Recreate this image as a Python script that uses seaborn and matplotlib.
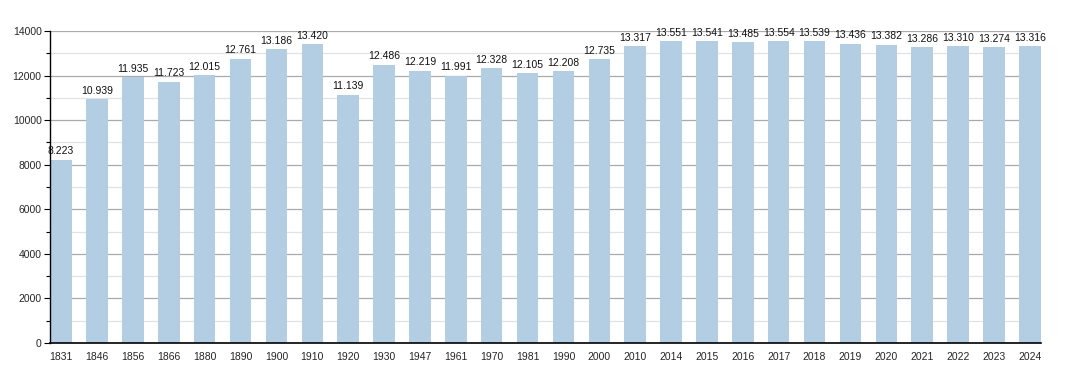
import matplotlib
matplotlib.use("Agg")
import matplotlib.pyplot as plt
import seaborn as sns
import pandas as pd
from matplotlib.ticker import MultipleLocator

years = ["1831", "1846", "1856", "1866", "1880", "1890", "1900", "1910", "1920", "1930",
         "1947", "1961", "1970", "1981", "1990", "2000", "2010", "2014", "2015", "2016",
         "2017", "2018", "2019", "2020", "2021", "2022", "2023", "2024"]
population = [8223, 10939, 11935, 11723, 12015, 12761, 13186, 13420, 11139, 12486,
              12219, 11991, 12328, 12105, 12208, 12735, 13317, 13551, 13541, 13485,
              13554, 13539, 13436, 13382, 13286, 13310, 13274, 13316]

df = pd.DataFrame({"year": years, "pop": population})

sns.set_style("white")
plt.rcParams["font.family"] = ["Liberation Sans", "DejaVu Sans"]

fig = plt.figure(figsize=(10.7, 3.73), dpi=100)
ax = fig.add_axes([50 / 1070, 30 / 373, 991 / 1070, 312 / 373])

ax.yaxis.set_major_locator(MultipleLocator(2000))
ax.yaxis.set_minor_locator(MultipleLocator(1000))
ax.grid(which="major", axis="y", color="#aaaaaa", linewidth=0.9)
ax.grid(which="minor", axis="y", color="#e2e2e2", linewidth=0.9)
ax.set_axisbelow(True)

sns.barplot(data=df, x="year", y="pop", color="#b3cde3", saturation=1,
            width=0.6, ax=ax, zorder=3, linewidth=0, edgecolor="none")

ax.set_ylim(0, 14000)
ax.set_xlim(-0.31, len(years) - 1 + 0.31)

for i, v in enumerate(population):
    ax.text(i, v + 150, f"{v:,}".replace(",", "."), ha="center", va="bottom",
            fontsize=7.5, color="#111111", zorder=4)

for s in ["top", "right"]:
    ax.spines[s].set_visible(False)
for s in ["left", "bottom"]:
    ax.spines[s].set_color("black")
    ax.spines[s].set_zorder(6)
ax.spines["left"].set_linewidth(1)
ax.spines["bottom"].set_linewidth(1.2)

ax.tick_params(axis="y", which="major", left=True, length=4, width=0.8,
               labelsize=7.5, pad=2, color="black")
ax.tick_params(axis="y", which="minor", left=True, length=3, width=0.8, color="black")
ax.tick_params(axis="x", bottom=False, labelsize=7.5, pad=3)
ax.set_xlabel("")
ax.set_ylabel("")

fig.savefig("out.png", dpi=100)
